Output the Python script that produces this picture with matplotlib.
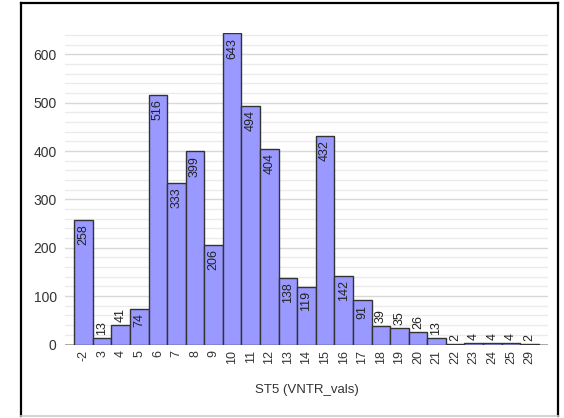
import matplotlib
matplotlib.use('agg')
import matplotlib.pyplot as plt
from matplotlib.lines import Line2D

vntr_vals = ["-2", "3", "4", "5", "6", "7", "8", "9", "10", "11", "12", "13",
             "14", "15", "16", "17", "18", "19", "20", "21", "22", "23", "24",
             "25", "29"]
counts = [258, 13, 41, 74, 516, 333, 399, 206, 643, 494, 404, 138,
          119, 432, 142, 91, 39, 35, 26, 13, 2, 4, 4, 4, 2]

plt.rcParams['font.family'] = ['Liberation Sans', 'DejaVu Sans']

fig = plt.figure(figsize=(5.64, 4.18), dpi=100)
ax = fig.add_axes([65 / 564, 73.5 / 418, 483 / 564, 312 / 418])

pos = list(range(len(counts)))
ax.bar(pos, counts, width=1.0, color='#9999ff', edgecolor='#333333',
       linewidth=1.0, zorder=3)

# value labels: inside the bar top when tall enough, otherwise above
for x, v in zip(pos, counts):
    if v >= 70:
        ax.annotate(str(v), (x, v), xytext=(0, -3), textcoords='offset points',
                    ha='center', va='top', rotation=90, fontsize=9,
                    color='#222222', zorder=4)
    else:
        ax.annotate(str(v), (x, v), xytext=(0, 2), textcoords='offset points',
                    ha='center', va='bottom', rotation=90, fontsize=9,
                    color='#222222', zorder=4)

ax.set_xlim(-1, len(counts))
ax.set_ylim(0, 645)
ax.set_xticks(pos)
ax.set_xticklabels(vntr_vals, rotation=90, fontsize=9, color='#333333')
ax.set_yticks([0, 100, 200, 300, 400, 500, 600])
ax.tick_params(axis='y', labelsize=10, labelcolor='#333333', length=0, pad=6)
ax.tick_params(axis='x', length=0, pad=4)

# light grid every 20, slightly darker every 100
for y in range(20, 641, 20):
    c = '#d8d8d8' if y % 100 == 0 else '#ebebeb'
    ax.axhline(y, color=c, linewidth=1.0, zorder=1)
ax.axhline(0, color='#999999', linewidth=1.2, zorder=2)

for s in ax.spines.values():
    s.set_visible(False)

ax.set_xlabel("ST5 (VNTR_vals)", fontsize=9.5, color='#333333', labelpad=14)

# outer frame
fx0, fx1 = 21 / 564, 558 / 564
fy0, fy1 = 1 - 416 / 418, 1 - 3 / 418
fig.add_artist(Line2D([fx0, fx0], [fy0, fy1], color='black', linewidth=1.6))
fig.add_artist(Line2D([fx1, fx1], [fy0, fy1], color='black', linewidth=1.6))
fig.add_artist(Line2D([fx0, fx1], [fy1, fy1], color='black', linewidth=1.6))
fig.add_artist(Line2D([fx0, fx1], [fy0, fy0], color='#cccccc', linewidth=1.2))

fig.savefig("out.png", dpi=100)
